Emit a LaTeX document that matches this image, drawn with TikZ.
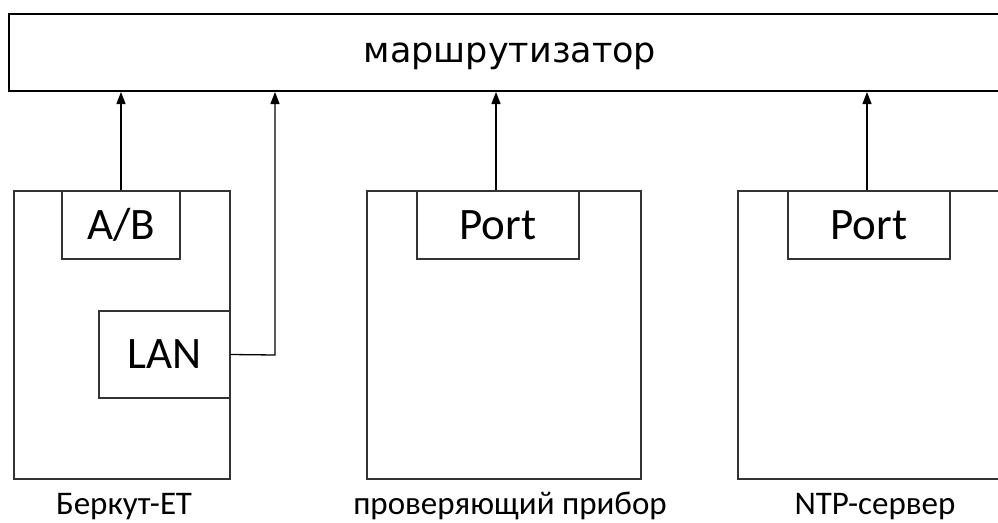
\documentclass[tikz,border=0pt]{standalone}
\usepackage{fontspec}
\setmainfont{Carlito}
\newfontfamily\dejavu{DejaVu Sans}
\usetikzlibrary{arrows.meta}
\begin{document}
\begin{tikzpicture}[x=1pt,y=-1pt,
  routerbox/.style={draw=black,line width=2pt,rectangle,inner sep=0pt,
    minimum width=1001pt,minimum height=77pt},
  routertext/.style={font=\dejavu\fontsize{35}{40}\selectfont,anchor=base,inner sep=0pt},
  devbox/.style={draw=black!80,line width=1.2pt,rectangle,inner sep=0pt,
    minimum width=#1,minimum height=288pt},
  portbox/.style={draw=black!80,line width=1.2pt,rectangle,inner sep=0pt,fill=white,
    minimum width=#1,font=\fontsize{45}{50}\selectfont},
  devlabel/.style={font=\fontsize{33}{38}\selectfont,anchor=base,inner sep=0pt},
  link/.style={draw=black,line width=1.3pt,line join=miter,-{Triangle[length=12pt,width=9pt]}}
]
\useasboundingbox (0,0) rectangle (998,522);
\clip (0,0) rectangle (998,522);
\node[routerbox] (router) at (509.5,52.5) {};
\node[routertext] (rlabel) at (510,62) {маршрутизатор};

\node[devbox=216pt] (berkut) at (122,335) {};
\node[devbox=274pt] (tester) at (504,335) {};
\node[devbox=274pt] (ntp) at (875,335) {};

\node[portbox=118pt,minimum height=68pt] (ab) at (121,225) {A/B};
\node[portbox=131pt,minimum height=87pt] (lan) at (164.5,354.5) {LAN};
\node[portbox=162pt,minimum height=68pt] (port2) at (498,225) {Port};
\node[portbox=162pt,minimum height=68pt] (port3) at (869,225) {Port};

\node[devlabel] (l1) at (124,514) {Беркут-ЕТ};
\node[devlabel] (l2) at (510,514) {проверяющий прибор};
\node[devlabel] (l3) at (875,514) {NTP-сервер};

\coordinate (lanup) at (275,355);
\draw[link] (lan.east) -- (lanup) -- (lanup |- router.south);
\draw[link] (ab.north) -- (ab.north |- router.south);
\draw[link] ([xshift=-2pt]port2.north) -- ([xshift=-2pt]port2.north |- router.south);
\draw[link] ([xshift=-2pt]port3.north) -- ([xshift=-2pt]port3.north |- router.south);
\end{tikzpicture}
\end{document}
